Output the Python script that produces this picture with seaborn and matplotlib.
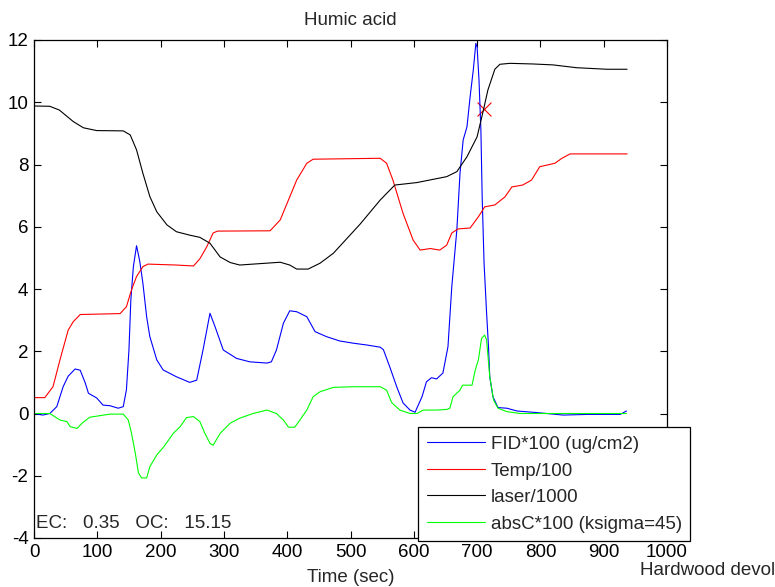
import numpy as np
import pandas as pd
import seaborn as sns
import matplotlib
matplotlib.use("Agg")
import matplotlib.pyplot as plt

# Time (sec) / value pairs
fid_t = [0, 14, 25, 36, 46, 54, 65, 73, 81, 86, 99, 109, 120, 133, 141, 146, 150, 153, 157, 162,
         167, 172, 178, 183, 194, 204, 225, 246, 257, 267, 278, 286, 299, 320, 341, 368, 375, 383,
         394, 404, 415, 431, 444, 462, 483, 504, 526, 547, 552, 562, 573, 583, 594, 602, 613, 620,
         628, 636, 646, 654, 660, 668, 673, 678, 684, 689, 694, 698, 700, 703, 706, 708, 711, 715,
         718, 720, 725, 733, 747, 763, 794, 836, 873, 926, 936]
fid_v = [0, -0.05, 0, 0.22, 0.86, 1.2, 1.43, 1.39, 0.98, 0.65, 0.5, 0.27, 0.25, 0.17, 0.22, 0.76,
         2.04, 3.65, 4.72, 5.39, 4.9, 4.19, 3.1, 2.47, 1.72, 1.4, 1.18, 1.0, 1.07, 2.04, 3.22, 2.79,
         2.04, 1.77, 1.66, 1.62, 1.66, 2.04, 2.9, 3.3, 3.27, 3.11, 2.63, 2.47, 2.33, 2.26, 2.2, 2.13,
         2.05, 1.5, 0.86, 0.34, 0.11, 0.04, 0.54, 1.02, 1.15, 1.11, 1.3, 2.15, 4.07, 5.9, 7.72, 8.79,
         9.21, 10.18, 11.04, 11.89, 11.78, 10.71, 9.1, 6.97, 4.83, 3.23, 2.15, 1.18, 0.54, 0.19, 0.17,
         0.08, 0.03, -0.05, -0.03, -0.03, 0.08]

temp_t = [0, 17, 30, 41, 54, 62, 73, 136, 146, 154, 162, 172, 180, 225, 252, 262, 273, 283, 290,
          373, 389, 415, 431, 441, 547, 557, 567, 583, 599, 610, 626, 641, 652, 660, 670, 689, 702,
          712, 728, 744, 755, 772, 786, 799, 810, 823, 834, 847, 937]
temp_v = [0.51, 0.51, 0.86, 1.72, 2.68, 2.95, 3.18, 3.21, 3.43, 3.97, 4.4, 4.72, 4.8, 4.77, 4.74,
          4.97, 5.36, 5.8, 5.86, 5.87, 6.22, 7.5, 8.04, 8.17, 8.2, 8.04, 7.5, 6.43, 5.57, 5.25, 5.3,
          5.25, 5.41, 5.8, 5.93, 5.96, 6.32, 6.64, 6.7, 6.96, 7.28, 7.34, 7.5, 7.93, 7.98, 8.04, 8.2,
          8.34, 8.34]

laser_t = [0, 25, 40, 62, 78, 99, 141, 152, 162, 172, 183, 194, 210, 225, 246, 262, 278, 294, 310,
           325, 346, 368, 389, 404, 415, 433, 452, 473, 515, 547, 570, 605, 652, 668, 684, 700, 710,
           717, 728, 736, 752, 788, 820, 857, 905, 937]
laser_v = [9.88, 9.87, 9.75, 9.38, 9.18, 9.09, 9.08, 8.95, 8.47, 7.72, 6.97, 6.48, 6.06, 5.84, 5.73,
           5.66, 5.47, 5.03, 4.85, 4.77, 4.8, 4.83, 4.86, 4.77, 4.64, 4.64, 4.83, 5.15, 6.08, 6.86,
           7.34, 7.42, 7.61, 7.77, 8.25, 8.89, 9.75, 10.39, 11.06, 11.22, 11.25, 11.23, 11.2, 11.11,
           11.06, 11.06]

absc_t = [0, 25, 41, 52, 57, 68, 76, 88, 104, 120, 141, 149, 154, 160, 165, 170, 178, 183, 194, 205,
          220, 231, 241, 252, 262, 270, 278, 283, 294, 310, 325, 346, 368, 383, 394, 402, 412, 420,
          431, 441, 452, 473, 504, 547, 557, 565, 578, 594, 605, 615, 636, 652, 657, 662, 673, 677,
          692, 697, 702, 707, 712, 715, 720, 726, 733, 747, 768, 820, 936]
absc_v = [0, 0, -0.21, -0.26, -0.42, -0.48, -0.31, -0.12, -0.07, -0.02, -0.02, -0.21, -0.63, -1.27,
          -1.91, -2.07, -2.07, -1.71, -1.33, -1.07, -0.64, -0.42, -0.13, -0.1, -0.26, -0.64, -0.96,
          -1.02, -0.64, -0.31, -0.15, 0.0, 0.11, 0.0, -0.21, -0.44, -0.44, -0.21, 0.11, 0.54, 0.7,
          0.84, 0.86, 0.86, 0.75, 0.35, 0.11, 0.0, 0.0, 0.11, 0.11, 0.13, 0.17, 0.54, 0.75, 0.91,
          0.91, 1.39, 1.72, 2.41, 2.52, 2.36, 1.18, 0.43, 0.17, 0.06, 0.0, 0.0, 0.0]

# split point marker on the laser curve
split_t = [711]
split_v = [9.77]

labels = ["FID*100 (ug/cm2)", "Temp/100", "laser/1000", "absC*100 (ksigma=45)"]
colors = ["#0000ff", "#ff0000", "#000000", "#00ff00"]

df = pd.concat([
    pd.DataFrame({"t": fid_t, "v": fid_v, "series": labels[0]}),
    pd.DataFrame({"t": temp_t, "v": temp_v, "series": labels[1]}),
    pd.DataFrame({"t": laser_t, "v": laser_v, "series": labels[2]}),
    pd.DataFrame({"t": absc_t, "v": absc_v, "series": labels[3]}),
], ignore_index=True)

sns.set_style("ticks")
plt.rcParams["font.family"] = ["Liberation Sans", "DejaVu Sans"]
plt.rcParams["axes.unicode_minus"] = False
fs = 13.5

fig = plt.figure(figsize=(7.75, 5.87), dpi=100)
ax = fig.add_axes([34 / 775, 49 / 587, 633 / 775, 498 / 587])

sns.lineplot(data=df, x="t", y="v", hue="series", hue_order=labels,
             palette=colors, estimator=None, sort=False, linewidth=0.8, ax=ax)
sns.scatterplot(x=split_t, y=split_v, marker="x", color="#ff0000", s=100,
                linewidth=0.8, ax=ax, legend=False)

ax.set_xlim(0, 1000)
ax.set_ylim(-4, 12)
ax.set_xticks(np.arange(0, 1001, 100))
ax.set_yticks(np.arange(-4, 13, 2))
ax.tick_params(direction="in", top=True, right=True, length=5, width=0.8,
               labelsize=fs, colors="black", pad=4)
for s in ax.spines.values():
    s.set_visible(True)
    s.set_linewidth(0.9)
    s.set_color("black")

ax.set_title("Humic acid", fontsize=fs, pad=11)
ax.set_xlabel("Time (sec)", fontsize=fs, labelpad=6)
ax.set_ylabel("")

ax.text(0.003, 0.02, "EC:   0.35   OC:   15.15", transform=ax.transAxes,
        fontsize=fs, va="baseline", ha="left")
fig.text(640 / 775, 12 / 587, "Hardwood devol", fontsize=fs, va="baseline", ha="left")

leg = ax.legend(loc="lower left", bbox_to_anchor=(0.607, -0.006), borderaxespad=0,
                fontsize=fs, handlelength=3.1, handletextpad=0.32, borderpad=0.45,
                labelspacing=0.5, fancybox=False, framealpha=1, edgecolor="black")
leg.get_frame().set_linewidth(0.9)
leg.set_title(None)

fig.savefig("out.png", dpi=100)
